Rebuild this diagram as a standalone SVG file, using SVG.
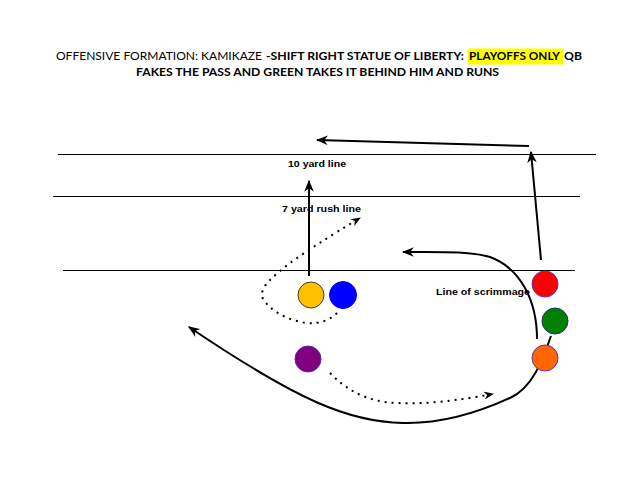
<svg xmlns="http://www.w3.org/2000/svg" width="638" height="479" viewBox="0 0 638 479">
<style>
.t{font-family:Lato,"Liberation Sans",sans-serif;font-size:12px;fill:#000}
.b{font-weight:bold}
.s{font-family:"Liberation Sans",Arial,sans-serif;font-size:9px;font-weight:bold;fill:#000}
.fl{stroke:#000;stroke-width:1;fill:none}
.c{fill:none;stroke:#000;stroke-width:2}
.d{fill:none;stroke:#000;stroke-width:2;stroke-dasharray:2 5}
.p{stroke-width:1}
</style>
<defs>
<marker id="ah" viewBox="0 0 10 8" refX="9" refY="4" markerWidth="6" markerHeight="5" orient="auto" markerUnits="strokeWidth">
<path d="M0,0 L10,4 L0,8 L3,4 z" fill="#000"/>
</marker>
<marker id="ahd" viewBox="0 0 10 8" refX="9" refY="4" markerWidth="5" markerHeight="4" orient="auto" markerUnits="strokeWidth">
<path d="M0,0 L10,4 L0,8 L3,4 z" fill="#000"/>
</marker>
</defs>
<rect width="638" height="479" fill="#fff"/>
<g id="title">
<rect x="467.5" y="48.5" width="95.5" height="16" fill="#ffff00"/>
<text class="t" x="56" y="59.5" textLength="206" lengthAdjust="spacingAndGlyphs">OFFENSIVE FORMATION: KAMIKAZE</text>
<text class="t b" x="266" y="59.5" textLength="198" lengthAdjust="spacingAndGlyphs">-SHIFT RIGHT STATUE OF LIBERTY:</text>
<text class="t b" x="469" y="59.5" textLength="91" lengthAdjust="spacingAndGlyphs">PLAYOFFS ONLY</text>
<text class="t b" x="564" y="59.5" textLength="18" lengthAdjust="spacingAndGlyphs">QB</text>
<text class="t b" x="136" y="76" textLength="363" lengthAdjust="spacingAndGlyphs">FAKES THE PASS AND GREEN TAKES IT BEHIND HIM AND RUNS</text>
</g>
<g id="field">
<line class="fl" x1="58" y1="154.5" x2="596" y2="154.5"/>
<line class="fl" x1="53" y1="196.5" x2="580" y2="196.5"/>
<line class="fl" x1="63" y1="270.5" x2="575" y2="270.5"/>
<text class="s" x="288" y="167" textLength="58" lengthAdjust="spacingAndGlyphs">10 yard line</text>
<text class="s" x="282" y="212" textLength="79" lengthAdjust="spacingAndGlyphs">7 yard rush line</text>
<text class="s" x="436" y="295" textLength="94" lengthAdjust="spacingAndGlyphs">Line of scrimmage</text>
</g>
<g id="connectors">
<line class="c" x1="309" y1="276" x2="309" y2="181" marker-end="url(#ah)"/>
<path class="d" d="M337,313 C330,320 320,324 307,323 C290,321 270,312 262,297 C260,286 275,275 290,263 C305,252 330,236 360,218" marker-end="url(#ahd)"/>
<line class="c" x1="541" y1="260" x2="531" y2="152" marker-end="url(#ah)"/>
<line class="c" x1="529" y1="146" x2="317" y2="140" marker-end="url(#ah)"/>
<path class="c" d="M537,339 C537,300 520,268 490,257 C470,251 440,252 403,252" marker-end="url(#ah)"/>
<path class="c" d="M551,336 C542,362 532,388 510,398 C475,414 440,424 403,423 C350,422 300,402 189,327" marker-end="url(#ah)"/>
<path class="d" d="M330,373 C345,388 360,398 385,402 C420,406 460,400 493,394" marker-end="url(#ahd)"/>
</g>
<g id="qb"><circle cx="311" cy="295" r="13" fill="#ffc000" stroke="#4d3b1a" class="p"/></g>
<g id="blue"><circle cx="343" cy="295" r="13.5" fill="#0000ff" stroke="#0000ff" class="p"/></g>
<g id="red"><circle cx="545" cy="284" r="13" fill="#ff0000" stroke="#7030a0" class="p"/></g>
<g id="green"><circle cx="555" cy="321" r="13" fill="#008000" stroke="#1f3864" class="p"/></g>
<g id="orange"><circle cx="545" cy="358" r="13" fill="#ff6600" stroke="#7030a0" class="p"/></g>
<g id="purple"><circle cx="308" cy="359" r="13" fill="#800080" stroke="#5b2c9a" class="p"/></g>
</svg>
